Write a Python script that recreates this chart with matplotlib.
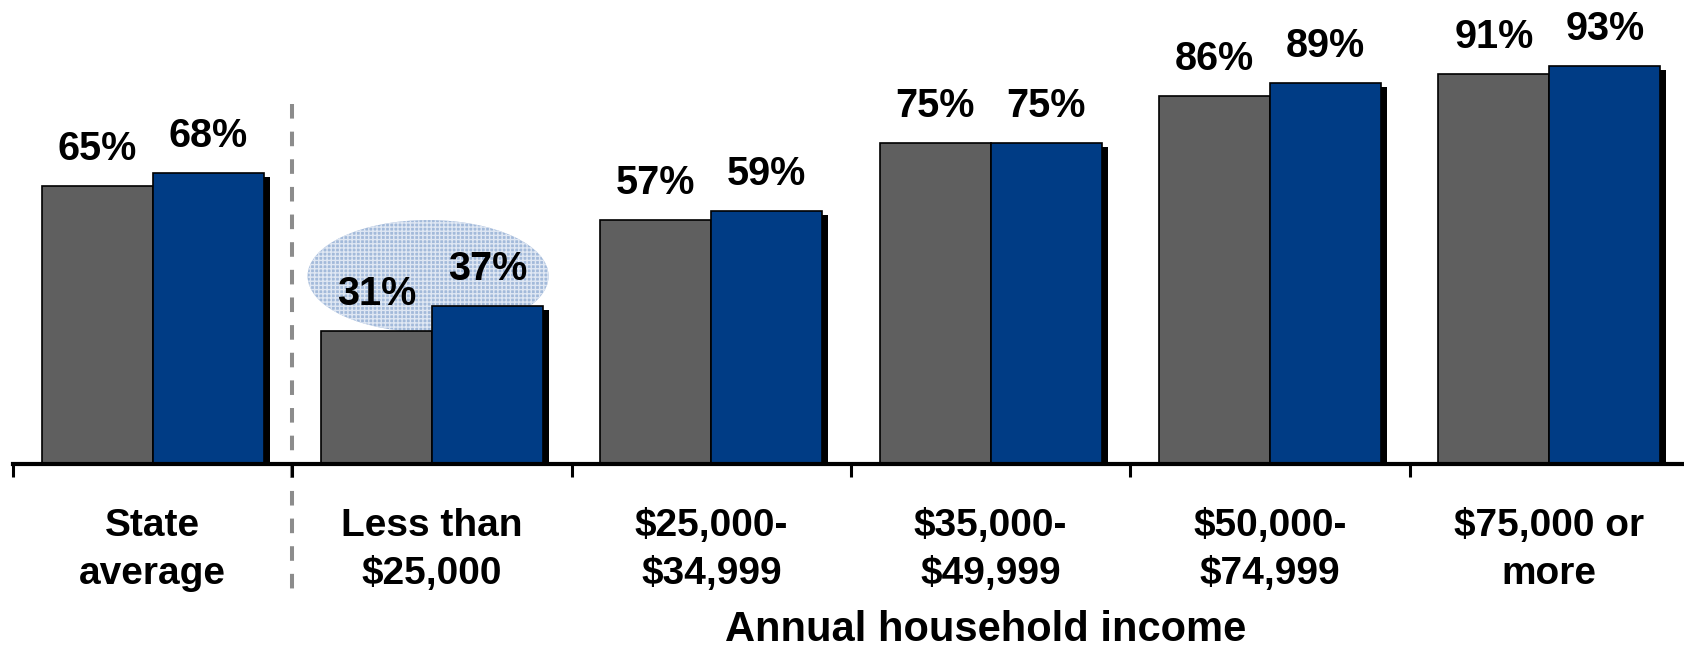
import matplotlib
matplotlib.use("Agg")
import matplotlib.pyplot as plt
import matplotlib.patheffects as pe
from matplotlib.patches import Ellipse
from matplotlib.lines import Line2D
import numpy as np

# datos
categorias = ["State\naverage", "Less than\n\\$25,000", "\\$25,000-\n\\$34,999",
              "\\$35,000-\n\\$49,999", "\\$50,000-\n\\$74,999", "\\$75,000 or\nmore"]
serie_gris = [65, 31, 57, 75, 86, 91]
serie_azul = [68, 37, 59, 75, 89, 93]

GRIS = "#5f5f5f"
AZUL = "#003c85"

plt.rcParams["font.family"] = ["Liberation Sans", "DejaVu Sans"]
plt.rcParams["font.weight"] = "bold"
plt.rcParams["lines.scale_dashes"] = False

fig = plt.figure(figsize=(16.84, 6.47), dpi=100)
ax = fig.add_axes([13 / 1684, (647 - 464) / 647, 1676 / 1684, 464 / 647])

x = np.arange(len(categorias))
w = 0.397
sombra = [pe.SimplePatchShadow(offset=(4.3, -2.9), shadow_rgbFace="black", alpha=1.0), pe.Normal()]

b1 = ax.bar(x - w / 2, serie_gris, w, color=GRIS, edgecolor="black", linewidth=1.2,
            path_effects=sombra, zorder=2)
b2 = ax.bar(x + w / 2, serie_azul, w, color=AZUL, edgecolor="black", linewidth=1.2,
            path_effects=sombra, zorder=3)

for barras in (b1, b2):
    for r in barras:
        h = r.get_height()
        ax.annotate(f"{h:.0f}%", (r.get_x() + r.get_width() / 2, h),
                    xytext=(0, 13), textcoords="offset points",
                    ha="center", va="bottom", fontsize=28.5, fontweight="bold", zorder=5)

# elipse resaltando el grupo de menor ingreso
el = Ellipse((0.986, 43.9), 0.863, 26.2, facecolor="#a3bada", edgecolor="#dfe7f3",
             hatch="++++", linewidth=0, zorder=1)
ax.add_patch(el)

# linea punteada separadora
sep = Line2D([0.5, 0.5], [84.1, -32.0], color="#8c8c8c", linewidth=2.9,
             dashes=(10.5, 9.4), dash_capstyle="butt", clip_on=False, zorder=1)
ax.add_line(sep)

ax.set_xlim(-0.5, 5.5)
ax.set_ylim(0, 108.4)
ax.set_yticks([])
for s in ("top", "right", "left"):
    ax.spines[s].set_visible(False)
ax.spines["bottom"].set_linewidth(3)
ax.spines["bottom"].set_zorder(6)

ax.set_xticks(x)
ax.set_xticklabels(categorias, fontsize=28, fontweight="bold", linespacing=1.42)
ax.tick_params(axis="x", which="major", length=0, pad=32)
ax.set_xticks(np.arange(-0.5, 6.0, 1.0), minor=True)
ax.tick_params(axis="x", which="minor", length=9.5, width=2.2, direction="out")

fig.text(986 / 1684, (647 - 641) / 647, "Annual household income", ha="center", va="baseline",
         fontsize=30, fontweight="bold")

fig.savefig("out.png", dpi=100)
